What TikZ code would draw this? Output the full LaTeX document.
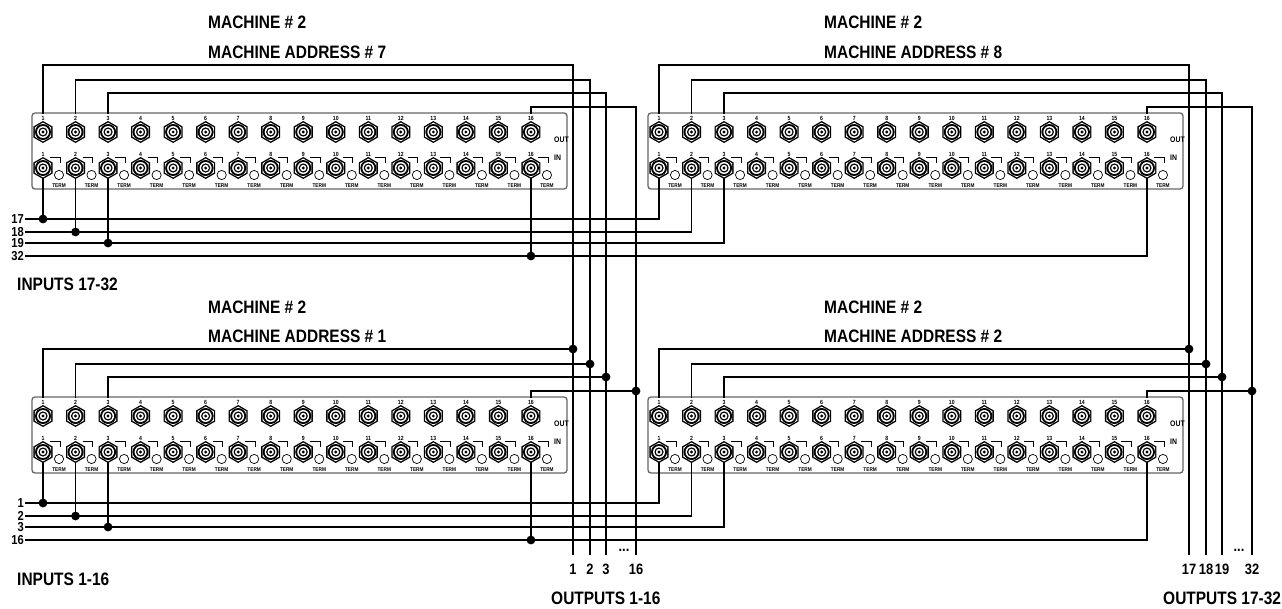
\documentclass[tikz,border=0pt]{standalone}
\usepackage{fontspec}
\setmainfont{Liberation Sans}[FakeStretch=0.86]
\usetikzlibrary{calc}

\tikzset{
  wire/.style={line width=1.3pt},
  frame/.style={draw=black!60, line width=1.3pt, rounded corners=3pt},
  jacknum/.style={font=\fontsize{6}{6}\selectfont\bfseries, inner sep=0pt},
  termtext/.style={font=\fontsize{5.5}{5.5}\selectfont\bfseries, inner sep=0pt},
  rowtext/.style={font=\fontsize{8}{8}\selectfont\bfseries, inner sep=0pt, anchor=west},
  title/.style={font=\fontsize{18}{18}\selectfont\bfseries, inner sep=0pt, anchor=west},
  busnum/.style={font=\fontsize{13}{13}\selectfont\bfseries, inner sep=0pt, anchor=east},
  outnum/.style={font=\fontsize{15}{15}\selectfont\bfseries, inner sep=0pt},
  bnc/.pic={
    \fill (90:11) -- (150:11) -- (210:11) -- (270:11) -- (330:11) -- (30:11) -- cycle;
    \fill[white] (90:9.4) -- (150:9.4) -- (210:9.4) -- (270:9.4) -- (330:9.4) -- (30:9.4) -- cycle;
    \fill (0,0) circle (8);
    \fill[white] (0,0) circle (6);
    \fill (0,0) circle (4.6);
    \fill[white] (0,0) circle (3.2);
    \fill (0,0) circle (1.6);
  }
}

% one 16 channel rack panel, #1 name, #2 top left corner
\newcommand{\rackpanel}[2]{%
  \begin{scope}[shift={#2}]
    \draw[frame] (0,0) rectangle (535,76);
    \foreach \i in {1,...,16} {
      \pgfmathsetmacro{\jx}{11+32.53*(\i-1)}
      \node[jacknum] at (\jx,5) {\i};
      \pic at (\jx,19) {bnc};
      \coordinate (#1out\i) at (\jx,1);
      \node[jacknum] at (\jx,41) {\i};
      \pic at (\jx,55) {bnc};
      \coordinate (#1in\i) at (\jx,65);
      \draw[line width=0.8pt] (\jx+7,44) -- (\jx+17,44) -- (\jx+17,50);
      \draw[line width=0.7pt] (\jx+16,62) circle (4.6);
      \node[termtext] at (\jx+16,73) {TERM};
    }
    \node[rowtext] at (522,27) {OUT};
    \node[rowtext] at (522,45) {IN};
  \end{scope}}

\begin{document}
\begin{tikzpicture}[x=1pt, y=-1pt]
  \useasboundingbox (0,0) rectangle (1282,608);

  \rackpanel{ma7}{(32,113)}
  \rackpanel{ma8}{(648,113)}
  \rackpanel{ma1}{(32,397)}
  \rackpanel{ma2}{(648,397)}

  % titles
  \node[title] (m7) at (208,22) {MACHINE \# 2};
  \node[title] (a7) at (208,52) {MACHINE ADDRESS \# 7};
  \node[title] (m8) at (824,22) {MACHINE \# 2};
  \node[title] (a8) at (824,52) {MACHINE ADDRESS \# 8};
  \node[title] (m1) at (208,307) {MACHINE \# 2};
  \node[title] (a1) at (208,336) {MACHINE ADDRESS \# 1};
  \node[title] (m2) at (824,307) {MACHINE \# 2};
  \node[title] (a2) at (824,336) {MACHINE ADDRESS \# 2};

  \node[title] (inhi) at (17,284) {INPUTS 17-32};
  \node[title] (inlo) at (17,579) {INPUTS 1-16};
  \node[title] (outlo) at (551,598) {OUTPUTS 1-16};
  \node[title] (outhi) at (1163,598) {OUTPUTS 17-32};

  % inputs 17-32
  \foreach \n/\j/\h in {17/1/219, 18/2/232, 19/3/243, 32/16/256} {
    \node[busnum] (lab\n) at (24,\h) {\n};
    \coordinate (bus\n) at (25,\h);
    \draw[wire] (bus\n) -| (ma8in\j);
    \draw[wire] (ma7in\j) -- (ma7in\j |- bus\n);
    \fill (ma7in\j |- bus\n) circle (4.4);
  }
  % inputs 1-16
  \foreach \n/\j/\h in {1/1/503, 2/2/516, 3/3/527, 16/16/540} {
    \node[busnum] (lab\n) at (24,\h) {\n};
    \coordinate (bus\n) at (25,\h);
    \draw[wire] (bus\n) -| (ma2in\j);
    \draw[wire] (ma1in\j) -- (ma1in\j |- bus\n);
    \fill (ma1in\j |- bus\n) circle (4.4);
  }

  % outputs 1-16
  \foreach \n/\j/\x/\h in {1/1/573/65, 2/2/590/80, 3/3/606/93, 16/16/636/107} {
    \pgfmathsetmacro{\hb}{\h+284}
    \coordinate (out\n) at (\x,555);
    \coordinate (up\n) at (\x,\h);
    \coordinate (lo\n) at (\x,\hb);
    \node[outnum] (olab\n) at (\x,569) {\n};
    \draw[wire] (ma7out\j) |- (up\n) -- (out\n);
    \draw[wire] (ma1out\j) |- (lo\n);
    \fill (lo\n) circle (4.4);
  }
  % outputs 17-32
  \foreach \n/\j/\x/\h in {17/1/1189/65, 18/2/1206/80, 19/3/1222/93, 32/16/1252/107} {
    \pgfmathsetmacro{\hb}{\h+284}
    \coordinate (out\n) at (\x,555);
    \coordinate (up\n) at (\x,\h);
    \coordinate (lo\n) at (\x,\hb);
    \node[outnum] (olab\n) at (\x,569) {\n};
    \draw[wire] (ma8out\j) |- (up\n) -- (out\n);
    \draw[wire] (ma2out\j) |- (lo\n);
    \fill (lo\n) circle (4.4);
  }
  \node[outnum] (dotslo) at (624,550) {...};
  \node[outnum] (dotshi) at (1239,550) {...};
\end{tikzpicture}
\end{document}
